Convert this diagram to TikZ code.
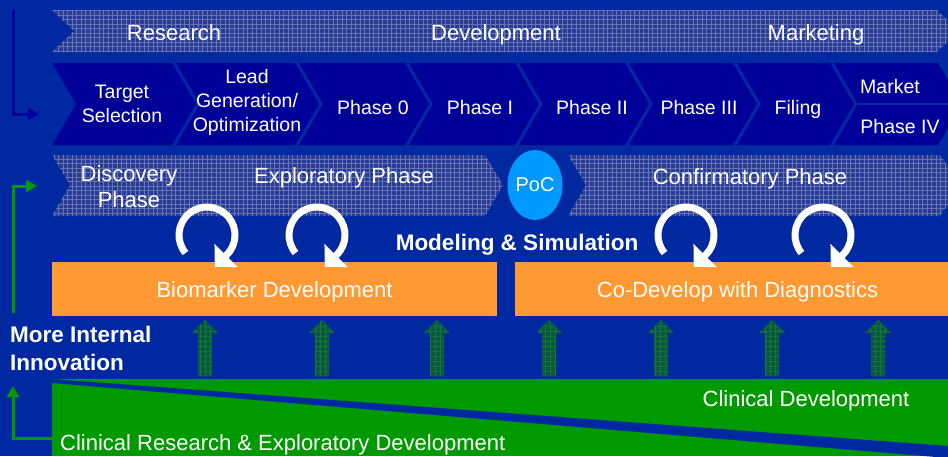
\documentclass[tikz,border=0pt]{standalone}
\usepackage{fontspec}
\setmainfont{Liberation Sans}
\usetikzlibrary{arrows.meta,patterns.meta,shapes.geometric}

\definecolor{bgblue}{RGB}{0,40,160}
\definecolor{navy}{RGB}{0,0,153}
\definecolor{hatchblue}{RGB}{40,58,155}
\definecolor{hatchline}{RGB}{105,118,172}
\definecolor{orng}{RGB}{255,153,51}
\definecolor{grn}{RGB}{0,153,0}
\definecolor{pocblue}{RGB}{0,153,255}
\definecolor{darkgrn}{RGB}{10,88,68}
\definecolor{arrowline}{RGB}{20,120,45}

\begin{document}
\begin{tikzpicture}[
      x=1pt, y=-1pt,
      hatched/.style={fill=hatchblue, postaction={pattern={Hatch[angle=0,distance=4.5pt,line width=.45pt]}, pattern color=hatchline}},
      chevron/.style={fill=navy},
      stage/.style={text=white, font=\fontsize{22}{26}\selectfont, align=center, inner sep=0pt},
      phase/.style={text=white, font=\fontsize{19.5}{24}\selectfont, align=center, inner sep=0pt},
      boldtxt/.style={text=white, font=\fontsize{22.5}{28}\selectfont\bfseries, inner sep=0pt},
      bar/.style={fill=orng, text=white, font=\fontsize{22}{26}\selectfont, minimum width=445pt, minimum height=54pt, text height=16pt, text depth=0pt, inner sep=0pt},
      loop arrow/.style={white, line width=7pt, -{Triangle[length=16pt,width=32pt]}},
      up arrow/.style={fill=darkgrn, postaction={pattern={Hatch[angle=0,distance=5pt,line width=.5pt]}, pattern color=arrowline}},
      link/.style={line width=3pt, -{Triangle[length=11pt,width=12pt]}}
      ]
      \useasboundingbox (0,0) rectangle (948,456);
      \fill[bgblue] (0,0) rectangle (948,456);
      \clip (0,0) rectangle (948,456);

      % top band
      \path[hatched] (52,10) -- (937,10) -- (959,31) -- (937,52) -- (52,52) -- (74,31) -- cycle;
      \node[stage, anchor=base] (research) at (174,40) {Research};
      \node[stage, anchor=base] (development) at (496,40) {Development};
      \node[stage, anchor=base] (marketing) at (816,40) {Marketing};

      % phases
      \foreach \a/\b in {52/172,176/295,299/405,409/515,519/625,629/733,737/830,834/938}
        \fill[chevron] (\a,63) -- (\b,63) -- (\b+24,104) -- (\b,145) -- (\a,145) -- (\a+24,104) -- cycle;
      \draw[bgblue, line width=2pt] (857,104) -- (948,104);
      \node[phase] (target) at (122,104) {Target\\Selection};
      \node[phase] (lead) at (247,102) {Lead\\Generation/\\Optimization};
      \node[phase, anchor=base] (phase0) at (373,114) {Phase 0};
      \node[phase, anchor=base] (phase1) at (480,114) {Phase I};
      \node[phase, anchor=base] (phase2) at (592,114) {Phase II};
      \node[phase, anchor=base] (phase3) at (699,114) {Phase III};
      \node[phase, anchor=base] (filing) at (798,114) {Filing};
      \node[phase, anchor=base] (market) at (890,93) {Market};
      \node[phase, anchor=base] (phase4) at (900,133) {Phase IV};

      % discovery / confirmatory
      \path[hatched] (52,155) -- (485,155) -- (503,185) -- (485,216) -- (52,216) -- (70,185) -- cycle;
      \path[hatched] (568,155) -- (940,155) -- (962,185) -- (940,216) -- (568,216) -- (586,185) -- cycle;
      \node[stage] (discovery) at (129,187) {Discovery\\Phase};
      \node[stage, anchor=base] (exploratory) at (344,183) {Exploratory Phase};
      \node[stage, anchor=base] (confirmatory) at (750,184) {Confirmatory Phase};
      \node[ellipse, fill=pocblue, text=white, font=\fontsize{20}{24}\selectfont, minimum width=48pt, minimum height=70pt, inner sep=0pt] (poc) at (535,185) {PoC};

      % modeling and simulation
      \node[bar] (biomarker) at (274.5,289) {Biomarker Development};
      \node[bar] (codevelop) at (737.5,289) {Co-Develop with Diagnostics};
      \node[boldtxt, anchor=base] (modeling) at (517,250) {Modeling \& Simulation};
      \foreach \c in {207,317,686,823}
        \draw[loop arrow] (\c,235) ++(140:28) arc[start angle=140, end angle=405, radius=28] -- ++(-12,12);

      % clinical
      \foreach \x in {205,322,437,549,661,772,878}
        \path[up arrow] (\x-7,376) -- (\x-7,333) -- (\x-13,333) -- (\x,320) -- (\x+13,333) -- (\x+7,333) -- (\x+7,376) -- cycle;
      \fill[grn] (52,379) rectangle (948,456);
      \fill[bgblue] (52,379) -- (948,446) -- (948,458) -- (52,383) -- cycle;
      \node[stage, anchor=base] (clindev) at (806,406) {Clinical Development};
      \node[stage, anchor=base west] (clinres) at (60,450) {Clinical Research \& Exploratory Development};
      \node[boldtxt, align=left, anchor=west] (innovation) at (10,348) {More Internal\\Innovation};

      % feedback arrows
      \coordinate (navytop) at (13,10);
      \coordinate (navyend) at (39,114);
      \coordinate (greenlow) at (13,313);
      \coordinate (greenend) at (37,186);
      \coordinate (clinleft) at (52,438);
      \coordinate (innobelow) at (13,386);
      \draw[link, navy] (navytop) |- (navyend);
      \draw[link, grn] (greenlow) |- (greenend);
      \draw[link, grn] (clinleft) -| (innobelow);
    \end{tikzpicture}
\end{document}
